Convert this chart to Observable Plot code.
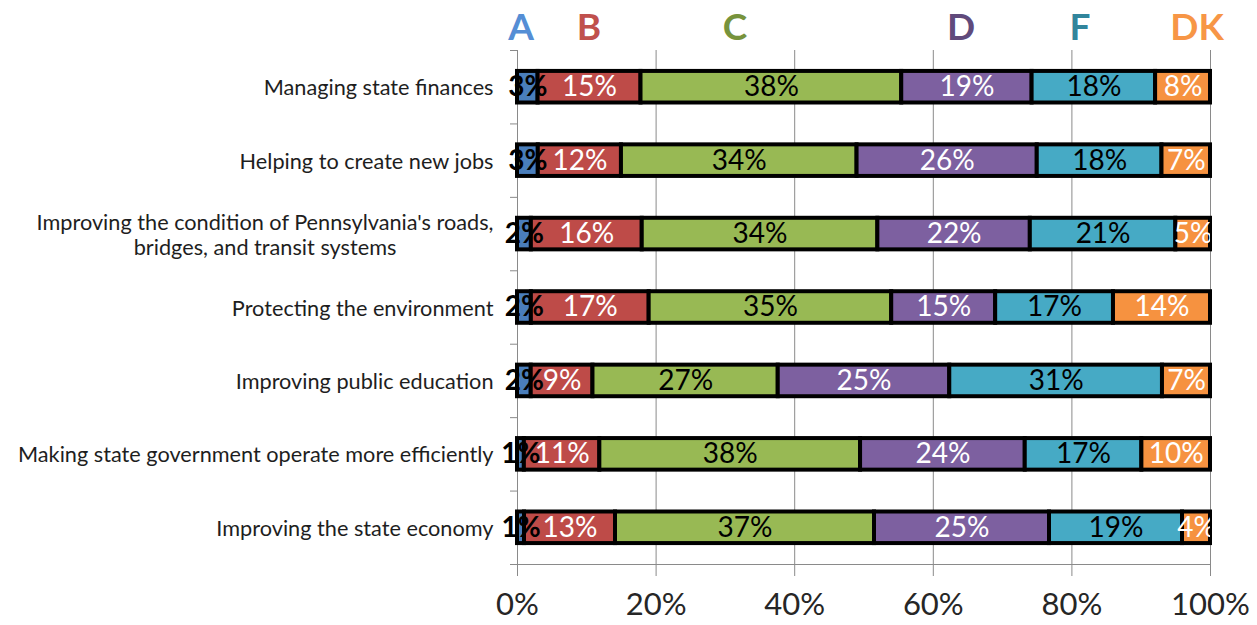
<!DOCTYPE html>
<html><head><meta charset="utf-8">
<script src="https://cdn.jsdelivr.net/npm/d3@7"></script>
<script src="https://cdn.jsdelivr.net/npm/@observablehq/plot@0.6"></script>
<style>
body{margin:0;background:#fff;font-family:Lato,"Open Sans",sans-serif;}
#wrap{position:relative;width:1257px;height:625px;overflow:hidden;}
#legend{position:relative;height:50px;width:1257px;}
#legend span{position:absolute;top:7px;transform:translateX(-50%);font-size:37px;line-height:37px;font-weight:700;}
</style></head><body>
<div id="wrap"><div id="legend"></div><div id="chart"></div></div>
<script>
// ---- data ----
const categories = [
  "Managing state finances",
  "Helping to create new jobs",
  "Improving the condition of Pennsylvania's roads,\nbridges, and transit systems",
  "Protecting the environment",
  "Improving public education",
  "Making state government operate more efficiently",
  "Improving the state economy"
];
const series = ["A", "B", "C", "D", "F", "DK"];
const valuesA  = [3, 3, 2, 2, 2, 1, 1];
const valuesB  = [15, 12, 16, 17, 9, 11, 13];
const valuesC  = [38, 34, 34, 35, 27, 38, 37];
const valuesD  = [19, 26, 22, 15, 25, 24, 25];
const valuesF  = [18, 18, 21, 17, 31, 17, 19];
const valuesDK = [8, 7, 5, 14, 7, 10, 4];
const xTicks = [0, 20, 40, 60, 80, 100];

// ---- styles ----
const barColor   = {A: "#4a7ebb", B: "#be4b48", C: "#98b954", D: "#7d60a0", F: "#46aac5", DK: "#f69240"};
const labelColor = {A: "#000", B: "#fff", C: "#000", D: "#fff", F: "#000", DK: "#fff"};
const legendColor = {A: "#558ed5", B: "#c0504d", C: "#77933c", D: "#604a7b", F: "#31859c", DK: "#f79646"};
const legendLeft = {A: 521, B: 589, C: 735, D: 961, F: 1080, DK: 1197};

const seriesValues = {A: valuesA, B: valuesB, C: valuesC, D: valuesD, F: valuesF, DK: valuesDK};
const rows = [];
categories.forEach((cat, i) => {
  const total = series.reduce((s, k) => s + seriesValues[k][i], 0);
  let acc = 0;
  series.forEach(k => {
    const v = seriesValues[k][i];
    const x1 = acc / total * 100; acc += v; const x2 = acc / total * 100;
    rows.push({cat, series: k, value: v, x1, x2, mid: (x1 + x2) / 2});
  });
});

// legend
const leg = document.getElementById("legend");
series.forEach(k => {
  const s = document.createElement("span");
  s.textContent = k; s.style.color = legendColor[k]; s.style.left = legendLeft[k] + "px";
  leg.appendChild(s);
});

const W = 1257, H = 575, mL = 517, mR = 47, mT = 0, mB = 61;
const step = (H - mT - mB) / categories.length;
const last = categories[categories.length - 1];
const grid = "#8a8a8a";

const chart = Plot.plot({
  width: W, height: H,
  marginLeft: mL, marginRight: mR, marginTop: mT, marginBottom: mB,
  style: {fontFamily: "Lato, 'Open Sans', sans-serif", background: "#fff", overflow: "visible"},
  x: {domain: [0, 100], axis: null},
  y: {domain: categories, axis: null, paddingInner: 0.57, paddingOuter: 0.285, round: false},
  color: {type: "identity"},
  marks: [
    Plot.ruleX(xTicks, {stroke: grid, strokeWidth: 1}),
    Plot.ruleY([last], {dy: step / 2, stroke: grid, strokeWidth: 1}),
    Plot.ruleY(categories, {x1: 0, x2: 0, insetLeft: -7, dy: -step / 2, stroke: grid}),
    Plot.ruleY([last], {x1: 0, x2: 0, insetLeft: -7, dy: step / 2, stroke: grid}),
    Plot.axisX({ticks: xTicks, tickFormat: d => d + "%", tickSize: 12, tickPadding: 16, fontSize: 31, stroke: grid, fill: "#262626", label: null}),
    Plot.barX(rows, {x1: "x1", x2: "x2", y: "cat", fill: d => barColor[d.series], stroke: "#000", strokeWidth: 4}),
    Plot.text(rows.filter(d => d.series !== "A"), {x: "mid", y: "cat", text: d => d.value + "%", fill: d => labelColor[d.series], fontSize: 28, clip: true}),
    Plot.text(rows.filter(d => d.series === "A"), {x: "mid", y: "cat", text: d => d.value + "%", fill: "#000", fontSize: 28, fontWeight: 700}),
    Plot.text(categories, {y: d => d, text: d => d, frameAnchor: "left", dx: -24, textAnchor: "end", fontSize: 21.7, fill: "#1e1e1e", lineHeight: 1.15})
  ]
});
document.getElementById("chart").appendChild(chart);

// center the wrapped second line under the first line of the two-line label
chart.querySelectorAll("text").forEach(t => {
  const ts = t.querySelectorAll("tspan");
  if (ts.length === 2 && t.textContent.includes("Pennsylvania")) {
    const w1 = ts[0].getComputedTextLength();
    t.setAttribute("text-anchor", "middle");
    ts.forEach(s => s.setAttribute("x", -w1 / 2));
  }
});
</script>
</body></html>
